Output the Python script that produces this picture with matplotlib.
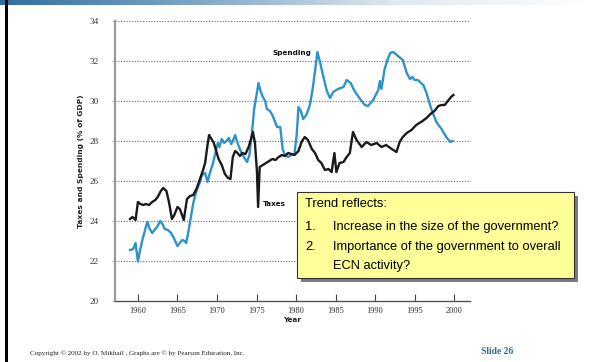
import numpy as np
import matplotlib
matplotlib.use("Agg")
import matplotlib.pyplot as plt
from matplotlib.patches import Rectangle
from matplotlib.colors import LinearSegmentedColormap

# ---------------- data ----------------
tax_years = [1959.0, 1959.3, 1959.7, 1960.0, 1960.3, 1960.7, 1961.0, 1961.4, 1961.8, 1962.2,
             1962.5, 1962.9, 1963.2, 1963.6, 1963.9, 1964.3, 1964.6, 1965.0, 1965.3, 1965.8,
             1966.2, 1966.6, 1967.0, 1967.4, 1967.8, 1968.2, 1968.5, 1968.8, 1969.0, 1969.3,
             1969.6, 1969.9, 1970.2, 1970.6, 1971.0, 1971.4, 1971.7, 1972.0, 1972.3, 1972.6,
             1972.9, 1973.2, 1973.6, 1974.0, 1974.3, 1974.55, 1974.8, 1975.05, 1975.2, 1975.4,
             1975.8, 1976.2, 1976.6, 1977.0, 1977.4, 1977.8, 1978.2, 1978.6, 1979.0, 1979.4,
             1979.8, 1980.3, 1980.7, 1981.1, 1981.5, 1982.0, 1982.4, 1982.8, 1983.2, 1983.65,
             1984.1, 1984.5, 1984.85, 1985.1, 1985.5, 1986.0, 1986.4, 1986.8, 1987.2, 1987.65,
             1988.3, 1988.9, 1989.5, 1990.2, 1990.8, 1991.4, 1992.1, 1992.7, 1993.1, 1993.5,
             1994.0, 1994.6, 1995.2, 1995.6, 1996.0, 1996.5, 1997.0, 1997.5, 1998.0, 1998.4,
             1998.8, 1999.2, 1999.6, 1999.9]
tax_values = [24.1, 24.2, 24.05, 24.95, 24.85, 24.8, 24.85, 24.8, 24.95, 25.05,
              25.2, 25.5, 25.65, 25.5, 25.0, 24.1, 24.3, 24.7, 24.6, 24.05,
              25.1, 25.25, 25.3, 25.6, 26.05, 26.5, 26.9, 27.8, 28.3, 28.1,
              27.9, 27.5, 27.1, 26.8, 26.35, 26.15, 26.1, 27.2, 27.5, 27.4,
              27.25, 27.4, 27.35, 27.7, 28.1, 28.45, 27.9, 26.5, 24.7, 26.7,
              26.8, 26.9, 27.0, 27.1, 27.05, 27.2, 27.3, 27.25, 27.4, 27.35,
              27.3, 27.5, 27.95, 28.2, 28.05, 27.6, 27.4, 27.05, 26.9, 26.55,
              26.6, 26.45, 27.4, 26.45, 26.9, 26.95, 27.2, 27.4, 28.45, 28.05,
              27.7, 27.95, 27.8, 27.9, 27.7, 27.8, 27.6, 27.45, 27.95, 28.2,
              28.4, 28.55, 28.8, 28.9, 29.0, 29.15, 29.35, 29.5, 29.75, 29.8,
              29.8, 30.0, 30.2, 30.3]

spend_years = [1959.0, 1959.4, 1959.7, 1960.0, 1960.3, 1960.6, 1961.0, 1961.2, 1961.5, 1961.8,
               1962.2, 1962.5, 1962.8, 1963.1, 1963.4, 1963.8, 1964.2, 1964.6, 1965.0, 1965.3,
               1965.6, 1965.9, 1966.1, 1966.4, 1966.7, 1967.0, 1967.4, 1967.8, 1968.1, 1968.5,
               1968.8, 1969.1, 1969.5, 1969.8, 1970.1, 1970.3, 1970.6, 1970.9, 1971.2, 1971.5,
               1971.8, 1972.0, 1972.3, 1972.6, 1973.0, 1973.4, 1973.8, 1974.1, 1974.4, 1974.7,
               1975.0, 1975.25, 1975.5, 1975.8, 1976.1, 1976.3, 1976.7, 1977.0, 1977.3, 1977.6,
               1978.0, 1978.3, 1978.6, 1979.0, 1979.4, 1979.8, 1980.1, 1980.3, 1980.6, 1980.9,
               1981.3, 1981.75, 1982.1, 1982.4, 1982.7, 1983.0, 1983.4, 1983.9, 1984.3, 1984.7,
               1985.3, 1986.0, 1986.4, 1986.9, 1987.4, 1988.1, 1988.7, 1989.1, 1989.75, 1990.4,
               1990.6, 1990.8, 1991.2, 1991.6, 1991.9, 1992.3, 1992.9, 1993.5, 1994.0, 1994.4,
               1994.7, 1995.0, 1995.4, 1995.8, 1996.1, 1996.5, 1997.1, 1997.75, 1998.4, 1999.0,
               1999.5, 1999.8]
spend_values = [22.55, 22.6, 22.9, 21.97, 22.6, 23.1, 23.7, 23.95, 23.6, 23.4,
                23.6, 23.75, 24.0, 23.85, 23.6, 23.55, 23.4, 23.1, 22.75, 22.9,
                23.05, 23.0, 22.9, 23.5, 24.2, 24.9, 25.5, 25.9, 26.3, 26.4,
                25.95, 26.4, 26.9, 27.4, 27.9, 27.7, 28.1, 27.9, 28.0, 28.15,
                27.85, 28.0, 28.3, 27.9, 27.5, 27.2, 26.95, 27.3, 28.3, 29.6,
                30.3, 30.9, 30.5, 30.2, 30.0, 29.6, 29.5, 29.3, 29.0, 28.7,
                28.7, 27.6, 27.3, 27.2, 27.3, 27.35, 28.4, 29.7, 29.5, 29.1,
                29.3, 29.8, 30.6, 31.5, 32.45, 32.0, 31.3, 30.5, 30.15, 30.45,
                30.6, 30.7, 31.05, 30.9, 30.5, 30.1, 29.8, 29.75, 30.05, 30.55,
                31.0, 30.6, 31.6, 32.1, 32.4, 32.45, 32.25, 32.05, 31.4, 31.1,
                31.2, 31.05, 31.05, 30.9, 30.8, 30.4, 29.6, 28.95, 28.6, 28.2,
                27.95, 28.0]

x_ticks = [1960, 1965, 1970, 1975, 1980, 1985, 1990, 1995, 2000]
y_ticks = [20, 22, 24, 26, 28, 30, 32, 34]
box_title = "Trend reflects:"
box_nums = ["1.", "2."]
box_lines = [["Increase in the size of the government?"],
             ["Importance of the government to overall", "ECN activity?"]]
footer = "Copyright \u00a9 2002 by O. Mikhail , Graphs are \u00a9 by Pearson Education, Inc."
slide_no = "Slide 26"

# ---------------- figure ----------------
W, H = 591, 362
fig = plt.figure(figsize=(W / 100, H / 100), dpi=100)
fig.patch.set_facecolor("white")


def fx(px):
    return px / W


def fy(py):
    return 1 - py / H


# top banner gradient
bax = fig.add_axes([0, fy(5), 1, 5 / H])
cmap = LinearSegmentedColormap.from_list("ban", ["#2d6fa3", "#7fa6c6", "#dfe8f0", "#ffffff"])
bax.imshow(np.linspace(0, 1, 256)[None, :], aspect="auto", cmap=cmap, extent=[0, 1, 0, 1])
bax.axis("off")

# left black border
fig.patches.append(Rectangle((fx(5), 0), fx(3), 1, transform=fig.transFigure,
                             facecolor="black", edgecolor="none", zorder=5))

# main axes
ax_l, ax_r, ax_t, ax_b = 115, 470, 21, 301
ax = fig.add_axes([fx(ax_l), fy(ax_b), fx(ax_r - ax_l), (ax_b - ax_t) / H])
ax.set_xlim(1957.1, 2002.0)
ax.set_ylim(20, 34)

for yv in y_ticks[1:]:
    ax.axhline(yv, color="#808080", lw=0.9, ls=(0, (1, 1.2)), zorder=1)

ax.plot(spend_years, spend_values, color="#2f93c8", lw=1.7, zorder=3, solid_joinstyle="round")
ax.plot(tax_years, tax_values, color="#1a1a1a", lw=1.7, zorder=4, solid_joinstyle="round")

ax.spines["top"].set_visible(False)
ax.spines["right"].set_visible(False)
ax.spines["left"].set_color("#9a9a9a")
ax.spines["left"].set_linewidth(1.6)
ax.spines["bottom"].set_color("#555555")
ax.spines["bottom"].set_linewidth(1.0)

serif = ["Liberation Serif", "DejaVu Serif"]
ax.set_xticks(x_ticks)
ax.set_xticklabels([str(v) for v in x_ticks], fontsize=6, family=serif, color="#333333")
ax.set_yticks(y_ticks)
ax.set_yticklabels([str(v) for v in y_ticks], fontsize=6.6, family=serif, color="#333333")
ax.tick_params(axis="x", direction="in", length=5, width=0.8, color="#444444", pad=4)
ax.tick_params(axis="y", direction="out", length=2, width=0.6, color="#aaaaaa", pad=10)

ax.set_xlabel("Year", fontsize=5.2, fontweight="bold", family="DejaVu Sans", color="#222222", labelpad=2)
ax.set_ylabel("Taxes and Spending (% of GDP)", fontsize=5.4, fontweight="bold",
              family="DejaVu Sans", color="#222222", labelpad=4)

ax.text(1979.45, 32.38, "Spending", fontsize=5.2, fontweight="bold", ha="center", va="center",
        color="#111111")
ax.text(1975.8, 24.85, "Taxes", fontsize=5.2, fontweight="bold", ha="left", va="center",
        color="#111111")

# yellow callout box with shadow
bx0, by0, bx1, by1 = 297, 192, 574, 278
fig.patches.append(Rectangle((fx(bx0 + 4), fy(by1 + 4)), fx(bx1 - bx0), (by1 - by0) / H,
                             transform=fig.transFigure, facecolor="#7a7a7a",
                             edgecolor="none", zorder=6))
fig.patches.append(Rectangle((fx(bx0), fy(by1)), fx(bx1 - bx0), (by1 - by0) / H,
                             transform=fig.transFigure, facecolor="#ffff99",
                             edgecolor="#333333", lw=0.8, zorder=7))
sans = ["Liberation Sans", "DejaVu Sans"]
fs_box = 9.3
fig.text(fx(305), fy(204), box_title, fontsize=fs_box, family=sans, va="center", ha="left",
         zorder=8, color="black")
item_y = [227, 247]
for num, lines, yy in zip(box_nums, box_lines, item_y):
    fig.text(fx(305), fy(yy), num, fontsize=fs_box, family=sans, va="center", ha="left",
             zorder=8, color="black")
    for k, ln in enumerate(lines):
        fig.text(fx(333), fy(yy + 19 * k), ln, fontsize=fs_box, family=sans, va="center",
                 ha="left", zorder=8, color="black")

# footer
fig.text(fx(30), fy(353), footer, fontsize=5.1, family=serif, va="center", ha="left", color="#222222")
fig.text(fx(513), fy(352), slide_no, fontsize=6.9, family=serif, fontweight="bold",
         va="center", ha="right", color="#2f6f8f")

fig.savefig("out.png", dpi=100)
